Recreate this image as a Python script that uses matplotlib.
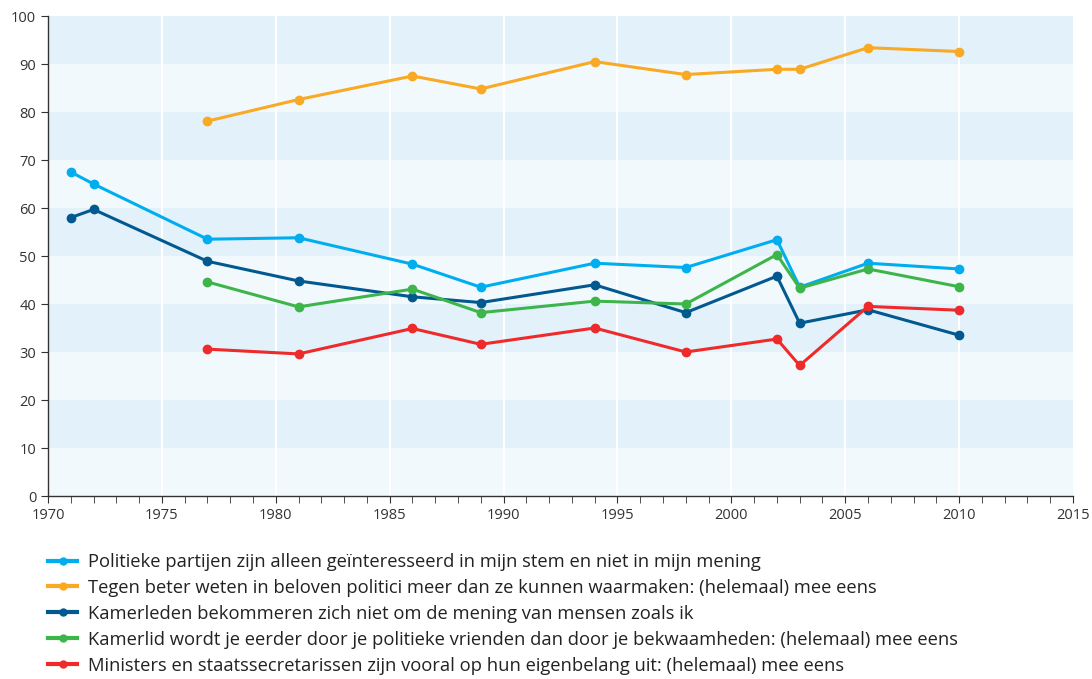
import numpy as np
import matplotlib
matplotlib.use('Agg')
from matplotlib import pyplot as plt
from matplotlib.legend_handler import HandlerLine2D
from matplotlib.lines import Line2D

plt.rcParams['font.family'] = ['Open Sans', 'DejaVu Sans']

years_a = [1971, 1972, 1977, 1981, 1986, 1989, 1994, 1998, 2002, 2003, 2006, 2010]
years_b = [1977, 1981, 1986, 1989, 1994, 1998, 2002, 2003, 2006, 2010]

partijen = [67.5, 65.0, 53.5, 53.8, 48.3, 43.5, 48.5, 47.6, 53.4, 43.5, 48.5, 47.3]
beloven = [78.1, 82.6, 87.5, 84.8, 90.5, 87.8, 88.9, 88.9, 93.4, 92.6]
kamerleden = [58.0, 59.7, 48.9, 44.8, 41.5, 40.3, 44.0, 38.2, 45.8, 36.0, 38.8, 33.5]
kamerlid = [44.6, 39.4, 43.1, 38.2, 40.6, 40.0, 50.3, 43.3, 47.3, 43.6]
ministers = [30.6, 29.6, 34.9, 31.6, 35.0, 30.0, 32.7, 27.2, 39.5, 38.7]

labels = [
    'Politieke partijen zijn alleen geïnteresseerd in mijn stem en niet in mijn mening',
    'Tegen beter weten in beloven politici meer dan ze kunnen waarmaken: (helemaal) mee eens',
    'Kamerleden bekommeren zich niet om de mening van mensen zoals ik',
    'Kamerlid wordt je eerder door je politieke vrienden dan door je bekwaamheden: (helemaal) mee eens',
    'Ministers en staatssecretarissen zijn vooral op hun eigenbelang uit: (helemaal) mee eens',
]
colors = ['#00aeef', '#f9a923', '#01598f', '#3db54a', '#ee2a2a']
series = [(years_a, partijen), (years_b, beloven), (years_a, kamerleden),
          (years_b, kamerlid), (years_b, ministers)]


class EndDot(HandlerLine2D):
    # legend line with the dot at its right end
    def get_xdata(self, legend, xdescent, ydescent, width, height, fontsize):
        xdata = np.array([-xdescent, -xdescent + width])
        return xdata, np.array([-xdescent + width])


fig = plt.figure(figsize=(10.92, 6.79), dpi=100)
ax = fig.add_axes([48 / 1092, 1 - 496 / 679, (1073 - 48) / 1092, (496 - 16) / 679])

# alternating background bands
for lo in range(0, 100, 10):
    c = '#e3f1fb' if (lo // 10) % 2 == 1 else '#f2f9fd'
    ax.axhspan(lo, lo + 10, color=c, lw=0, zorder=0)
for x in range(1975, 2015, 5):
    ax.axvline(x, color='white', lw=1.5, zorder=1)

handles = []
for (xs, ys), c, lab in zip(series, colors, labels):
    ax.plot(xs, ys, color=c, lw=2.2, marker='o', ms=6, zorder=3)
    handles.append(Line2D([], [], color=c, lw=3, marker='o', ms=5, label=lab))

ax.set_xlim(1970, 2015)
ax.set_ylim(0, 100)
ax.set_xticks(range(1970, 2016, 5))
ax.set_xticks(range(1970, 2016), minor=True)
ax.set_yticks(range(0, 101, 10))
for s in ['top', 'right']:
    ax.spines[s].set_visible(False)
for s in ['left', 'bottom']:
    ax.spines[s].set_color('#333333')
    ax.spines[s].set_linewidth(1)
ax.tick_params(axis='both', which='both', length=5, color='#333333',
               labelsize=10.5, labelcolor='#333333')

leg = fig.legend(handles=handles, loc='upper left', bbox_to_anchor=(48 / 1092, 1 - 553 / 679),
                 handler_map={Line2D: EndDot(numpoints=1)}, frameon=False,
                 fontsize=13.25, handlelength=1.6, handletextpad=0.6, labelspacing=0.43,
                 borderaxespad=0, borderpad=0)
for t in leg.get_texts():
    t.set_color('#222222')

fig.savefig('out.png', dpi=100)
